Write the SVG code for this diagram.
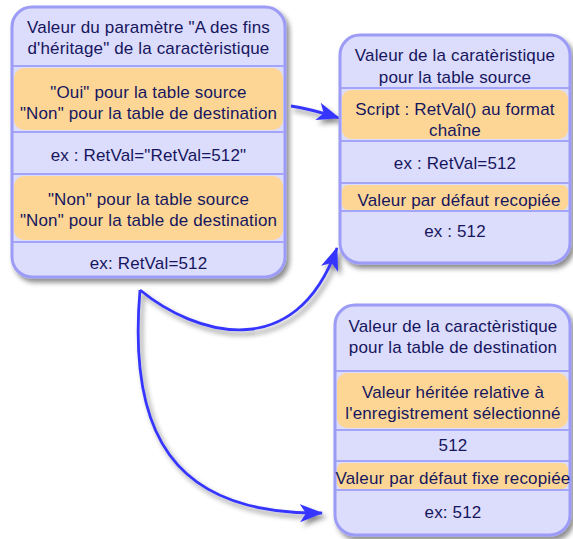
<svg xmlns="http://www.w3.org/2000/svg" width="573" height="539" viewBox="0 0 573 539">
<defs>
<filter id="sh" x="-10%" y="-10%" width="130%" height="130%">
<feDropShadow dx="3" dy="4" stdDeviation="2.5" flood-color="#000" flood-opacity="0.45"/>
</filter>
<marker id="ah" viewBox="0 -10 24 20" refX="22" refY="0" markerWidth="24" markerHeight="20" markerUnits="userSpaceOnUse" orient="auto">
<path d="M0,-9 L23,0 L0,9 L6,0 z" fill="#3535ff"/>
</marker>
</defs>
<style>
.box{fill:#dcdcfc;stroke:#9c9cf6;stroke-width:3}
.div{stroke:#a4a4f8;stroke-width:2}
.or{fill:#fdd696}
text{font-family:"Liberation Sans",Arial,sans-serif;font-size:17px;fill:#16165e;text-anchor:middle;letter-spacing:0.15px}
.con{fill:none;stroke:#3535ff;stroke-width:2.8}
</style>
<g id="connectors" filter="url(#sh)">
<path class="con" d="M291,106 C305,108 320,112 339,118" marker-end="url(#ah)"/>
<path class="con" d="M140,290 C195,335 295,365 337,248" marker-end="url(#ah)"/>
<path class="con" d="M140,290 C128,430 170,515 322,513" marker-end="url(#ah)"/>
</g>
<g id="node-heritage">
<rect class="box" x="12" y="7" width="273" height="270" rx="20" filter="url(#sh)"/>
<rect class="or" x="14" y="68" width="269" height="62" rx="10"/>
<rect class="or" x="14" y="176" width="269" height="64" rx="10"/>
<line class="div" x1="13" y1="66" x2="284" y2="66"/>
<line class="div" x1="13" y1="132" x2="284" y2="132"/>
<line class="div" x1="13" y1="174" x2="284" y2="174"/>
<line class="div" x1="13" y1="242" x2="284" y2="242"/>
<text x="148.5" y="33">Valeur du paramètre "A des fins</text>
<text x="148.5" y="54">d'héritage" de la caractèristique</text>
<text x="148.5" y="98">"Oui" pour la table source</text>
<text x="148.5" y="119">"Non" pour la table de destination</text>
<text x="148.5" y="161">ex : RetVal="RetVal=512"</text>
<text x="148.5" y="205">"Non" pour la table source</text>
<text x="148.5" y="226">"Non" pour la table de destination</text>
<text x="148.5" y="269">ex: RetVal=512</text>
</g>
<g id="node-source">
<rect class="box" x="340" y="35" width="230" height="228" rx="20" filter="url(#sh)"/>
<rect class="or" x="342" y="90" width="226" height="49" rx="9"/>
<rect class="or" x="342" y="185" width="226" height="25" rx="6"/>
<line class="div" x1="341" y1="88" x2="569" y2="88"/>
<line class="div" x1="341" y1="141" x2="569" y2="141"/>
<line class="div" x1="341" y1="183" x2="569" y2="183"/>
<line class="div" x1="341" y1="211" x2="569" y2="211"/>
<text x="455" y="61">Valeur de la caratèristique</text>
<text x="455" y="83">pour la table source</text>
<text x="455" y="115">Script : RetVal() au format</text>
<text x="455" y="136">chaîne</text>
<text x="455" y="169">ex : RetVal=512</text>
<text x="459" y="206">Valeur par défaut recopiée</text>
<text x="455" y="237">ex : 512</text>
</g>
<g id="node-destination">
<rect class="box" x="335" y="305" width="235" height="230" rx="20" filter="url(#sh)"/>
<rect class="or" x="337" y="373" width="231" height="55" rx="10"/>
<rect class="or" x="337" y="463" width="231" height="26" rx="6"/>
<line class="div" x1="336" y1="371" x2="569" y2="371"/>
<line class="div" x1="336" y1="430" x2="569" y2="430"/>
<line class="div" x1="336" y1="461" x2="569" y2="461"/>
<line class="div" x1="336" y1="490" x2="569" y2="490"/>
<text x="453" y="332">Valeur de la caractèristique</text>
<text x="453" y="353">pour la table de destination</text>
<text x="453" y="398">Valeur héritée relative à</text>
<text x="453" y="419">l'enregistrement sélectionné</text>
<text x="453" y="451">512</text>
<text x="453" y="484">Valeur par défaut fixe recopiée</text>
<text x="453" y="518">ex: 512</text>
</g>
</svg>
